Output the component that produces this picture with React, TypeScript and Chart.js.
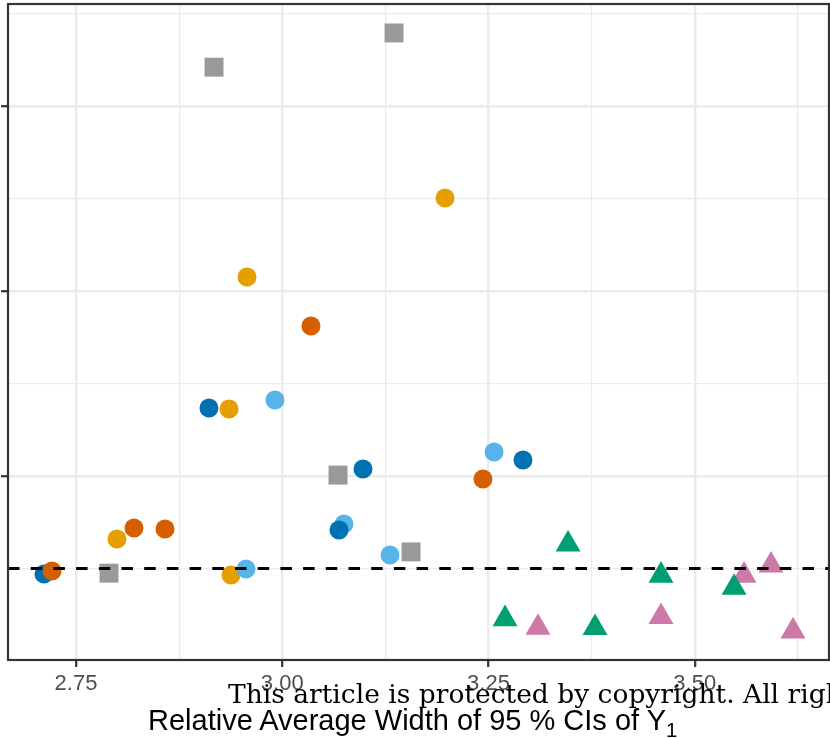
import React, { useEffect, useRef } from 'react';
import { Chart, registerables } from 'chart.js';

Chart.register(...registerables);

// ---- axes ----
const xMin = 2.6676;
const xMax = 3.6627;
const yMin = 94.011;
const yMax = 101.103;
const xMajorTicks = [2.75, 3.0, 3.25, 3.5];
const xMinorTicks = [2.875, 3.125, 3.375, 3.625];
const xTickLabels = ['2.75', '3.00', '3.25', '3.50'];
const yMajorTicks = [96, 98, 100];
const yMinorTicks = [95, 97, 99, 101];
const referenceLine = 95;

const xTitle = 'Relative Average Width of 95 % CIs of Y';
const xTitleSub = '1';
const watermark = 'This article is protected by copyright. All rights reserved.';

// ---- series (x = relative average width, y = value on hidden y axis) ----
const grayX = [2.9173, 3.1355, 3.0676, 3.1561, 2.79];
const grayY = [100.42, 100.79, 96.01, 95.18, 94.95];
const orangeX = [3.1973, 2.9573, 2.9355, 2.7997, 2.9379];
const orangeY = [99.005, 98.151, 96.724, 95.319, 94.93];
const vermillionX = [3.0348, 2.8203, 2.8579, 3.2433, 2.7209];
const vermillionY = [97.622, 95.438, 95.427, 95.968, 94.973];
const darkBlueX = [2.9112, 3.0979, 3.0688, 3.2918, 2.7112];
const darkBlueY = [96.735, 96.076, 95.416, 96.173, 94.941];
const skyBlueX = [2.9912, 3.0748, 3.1306, 3.2567, 2.9561];
const skyBlueY = [96.822, 95.481, 95.146, 96.259, 94.995];
const greenX = [3.3464, 3.4591, 3.5476, 3.27, 3.3791];
const greenY = [95.261, 94.925, 94.794, 94.454, 94.359];
const pinkX = [3.31, 3.4591, 3.5597, 3.5924, 3.6191];
const pinkY = [94.361, 94.477, 94.925, 95.034, 94.322];

const pts = (xs: number[], ys: number[]) => xs.map((x, i) => ({ x, y: ys[i] }));
const isIn = (v: number, arr: number[]) => arr.some((t) => Math.abs(t - v) < 1e-6);

export default function App() {
  const ref = useRef<HTMLCanvasElement | null>(null);

  useEffect(() => {
    if (!ref.current) return;
    const borderPlugin = {
      id: 'panelBorder',
      afterDraw(chart: any) {
        const { ctx, chartArea } = chart;
        ctx.save();
        ctx.strokeStyle = '#333333';
        ctx.lineWidth = 2.2;
        ctx.strokeRect(chartArea.left, chartArea.top, chartArea.right - chartArea.left, chartArea.bottom - chartArea.top);
        ctx.restore();
      },
    };
    const circle = (data: any, color: string, order: number) => ({
      type: 'scatter' as const,
      data,
      pointStyle: 'circle',
      pointRadius: 9.5,
      pointBackgroundColor: color,
      pointBorderColor: color,
      pointBorderWidth: 0,
      order,
    });
    const chart = new Chart(ref.current, {
      type: 'scatter',
      data: {
        datasets: [
          {
            type: 'line',
            data: [
              { x: xMin, y: referenceLine },
              { x: xMax, y: referenceLine },
            ],
            borderColor: '#000000',
            borderWidth: 2.8,
            borderDash: [11.5, 11.2],
            pointRadius: 0,
            order: 0,
          } as any,
          circle(pts(vermillionX, vermillionY), '#D55E00', 1),
          circle(pts(darkBlueX, darkBlueY), '#0072B2', 2),
          circle(pts(skyBlueX, skyBlueY), '#56B4E9', 3),
          circle(pts(orangeX, orangeY), '#E69F00', 4),
          {
            type: 'scatter',
            data: pts(grayX, grayY),
            pointStyle: 'rect',
            pointRadius: 13.4,
            pointBackgroundColor: '#999999',
            pointBorderWidth: 0,
            order: 5,
          } as any,
          {
            type: 'scatter',
            data: pts(greenX, greenY),
            pointStyle: 'triangle',
            pointRadius: 14.4,
            pointBackgroundColor: '#009E73',
            pointBorderWidth: 0,
            order: 6,
          } as any,
          {
            type: 'scatter',
            data: pts(pinkX, pinkY),
            pointStyle: 'triangle',
            pointRadius: 14.4,
            pointBackgroundColor: '#CC79A7',
            pointBorderWidth: 0,
            order: 7,
          } as any,
        ],
      },
      options: {
        animation: false,
        responsive: true,
        maintainAspectRatio: false,
        layout: { autoPadding: false, padding: { left: 0, top: 4, right: 1, bottom: 0 } },
        plugins: { legend: { display: false }, tooltip: { enabled: false } },
        scales: {
          x: {
            type: 'linear',
            min: xMin,
            max: xMax,
            afterBuildTicks: (s: any) => {
              s.ticks = [...xMajorTicks, ...xMinorTicks].sort((a, b) => a - b).map((v) => ({ value: v }));
            },
            afterFit: (s: any) => {
              s.height = 78;
            },
            border: { display: false },
            grid: {
              color: '#EBEBEB',
              lineWidth: (c: any) => (c.tick && isIn(c.tick.value, xMajorTicks) ? 2.4 : 1.2),
              tickLength: 7,
              tickWidth: 2.2,
              tickColor: (c: any) => (c.tick && isIn(c.tick.value, xMajorTicks) ? '#333333' : 'rgba(0,0,0,0)'),
            },
            ticks: {
              autoSkip: false,
              maxRotation: 0,
              minRotation: 0,
              padding: 4,
              color: '#4D4D4D',
              font: { family: '"Liberation Sans", Arial, sans-serif', size: 22 },
              callback: (v: any) => {
                const i = xMajorTicks.findIndex((t) => Math.abs(t - Number(v)) < 1e-6);
                return i >= 0 ? xTickLabels[i] : '';
              },
            },
          },
          y: {
            type: 'linear',
            min: yMin,
            max: yMax,
            afterBuildTicks: (s: any) => {
              s.ticks = [...yMajorTicks, ...yMinorTicks].sort((a, b) => a - b).map((v) => ({ value: v }));
            },
            afterFit: (s: any) => {
              s.width = 8;
            },
            border: { display: false },
            grid: {
              color: '#EBEBEB',
              lineWidth: (c: any) => (c.tick && isIn(c.tick.value, yMajorTicks) ? 2.4 : 1.2),
              tickLength: 7,
              tickWidth: 2.2,
              tickColor: (c: any) => (c.tick && isIn(c.tick.value, yMajorTicks) ? '#333333' : 'rgba(0,0,0,0)'),
            },
            ticks: { display: false },
          },
        },
      },
      plugins: [borderPlugin],
    } as any);
    return () => chart.destroy();
  }, []);

  return (
    <div style={{ position: 'absolute', left: 0, top: 0, width: 830, height: 738, overflow: 'hidden', background: '#fff' }}>
      <canvas ref={ref} />
      <div
        style={{
          position: 'absolute',
          left: 148,
          top: 706,
          fontFamily: '"Liberation Sans", Arial, sans-serif',
          fontSize: 29,
          lineHeight: 1,
          color: '#000',
          whiteSpace: 'nowrap',
        }}
      >
        {xTitle}
        <span style={{ fontSize: '0.7em', position: 'relative', top: '0.35em' }}>{xTitleSub}</span>
      </div>
      <div
        style={{
          position: 'absolute',
          left: 228,
          top: 681,
          fontFamily: '"DejaVu Serif", serif',
          fontSize: 26.5,
          lineHeight: 1,
          color: '#000',
          whiteSpace: 'nowrap',
        }}
      >
        {watermark}
      </div>
    </div>
  );
}
